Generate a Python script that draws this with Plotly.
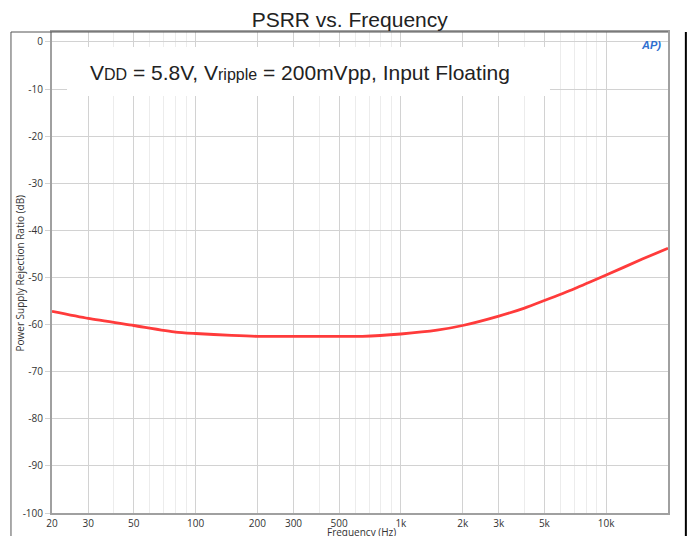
import plotly.graph_objects as go

# PSRR curve
freq_hz = [20, 30, 50, 80, 100, 150, 200, 300, 500, 650, 1000, 1500, 2000, 3000, 4000, 5000, 7000, 10000, 15000, 20000]
psrr_db = [-57.2, -58.7, -60.2, -61.6, -61.9, -62.3, -62.5, -62.5, -62.5, -62.5, -62.0, -61.2, -60.2, -58.2, -56.5, -54.9, -52.4, -49.5, -46.1, -43.8]

x_tickvals = [20, 30, 50, 100, 200, 300, 500, 1000, 2000, 3000, 5000, 10000]
x_ticktext = ['20', '30', '50', '100', '200', '300', '500', '1k', '2k', '3k', '5k', '10k']
x_minor = [40, 60, 70, 80, 90, 400, 600, 700, 800, 900, 4000, 6000, 7000, 8000, 9000, 20000]
y_tickvals = [0, -10, -20, -30, -40, -50, -60, -70, -80, -90, -100]
y_ticktext = ['0', '-10', '-20', '-30', '-40', '-50', '-60', '-70', '-80', '-90', '-100']

tick_font = dict(family='Open Sans', size=10, color='#333333')
frame_col = '#555555'
axis_col = '#a0a0a0'

fig = go.Figure()

fig.add_trace(go.Scatter(
    x=freq_hz, y=psrr_db, mode='lines',
    line=dict(color='#ff3b3b', width=2.8, shape='spline', smoothing=0.6),
    showlegend=False
))

fig.update_xaxes(
    type='log', range=[1.30103, 4.30103],
    tickvals=x_tickvals, ticktext=x_ticktext, tickfont=tick_font,
    showgrid=True, gridcolor='#d2d2d2', gridwidth=1,
    minor=dict(tickvals=x_minor, showgrid=True, gridcolor='#ececec', ticks=''),
    showline=True, linecolor=axis_col, linewidth=2, mirror=True,
    ticks='', zeroline=False
)
fig.update_yaxes(
    range=[-100, 2.1],
    tickvals=y_tickvals, ticktext=y_ticktext, tickfont=tick_font,
    showgrid=True, gridcolor='#d2d2d2', gridwidth=1,
    showline=True, linecolor=axis_col, linewidth=2, mirror=True,
    ticks='outside', ticklen=5, tickcolor='#d2d2d2', zeroline=False
)

# outer frame lines
fig.add_shape(type='line', xref='paper', yref='paper', x0=-0.0666, x1=-0.0666, y0=1.0, y1=-0.08,
              line=dict(color=frame_col, width=1))
fig.add_shape(type='line', xref='paper', yref='paper', x0=-0.0666, x1=1.0, y0=1.0, y1=1.0,
              line=dict(color=frame_col, width=1))
fig.add_shape(type='line', xref='paper', yref='paper', x0=1.029, x1=1.029, y0=1.0, y1=-0.08,
              line=dict(color='#000000', width=2))

# white box behind the condition text
fig.add_shape(type='rect', xref='paper', yref='paper', x0=0.0244, x1=0.8084, y0=0.867, y1=0.969,
              fillcolor='white', line=dict(width=0), layer='above')

fig.add_annotation(
    xref='paper', yref='paper', x=0.0584, y=0.915, xanchor='left', yanchor='middle',
    text='V<span style="font-size:16px">DD</span> = 5.8V, V<span style="font-size:16px">ripple</span>'
         ' = 200mVpp, Input Floating',
    showarrow=False, font=dict(family='Liberation Sans', size=21, color='#222222')
)
fig.add_annotation(
    xref='paper', yref='paper', x=0.972, y=0.972, xanchor='center', yanchor='middle',
    text='<b><i>AP)</i></b>', showarrow=False,
    font=dict(family='Liberation Sans', size=11, color='#2f6fd0')
)
fig.add_annotation(
    xref='paper', yref='paper', x=-0.052, y=0.5, xanchor='center', yanchor='middle',
    text='Power Supply Rejection Ratio (dB)', textangle=-90, showarrow=False,
    font=dict(family='Open Sans', size=10, color='#333333')
)
fig.add_annotation(
    xref='paper', yref='paper', x=0.502, y=-0.04, xanchor='center', yanchor='middle',
    text='Frequency (Hz)', showarrow=False,
    font=dict(family='Open Sans', size=10, color='#333333')
)

fig.update_layout(
    title=dict(text='PSRR vs. Frequency', x=0.491, xanchor='center', y=0.978, yanchor='middle',
               font=dict(family='Liberation Sans', size=21, color='#222222')),
    width=696, height=536,
    margin=dict(l=44, r=36, t=24, b=31),
    plot_bgcolor='white', paper_bgcolor='white'
)

fig.write_html('out.html')
